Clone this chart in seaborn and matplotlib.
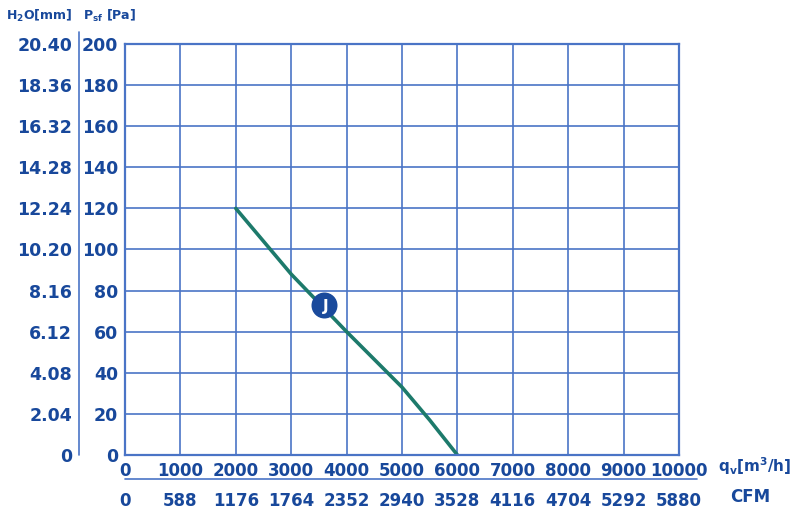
import matplotlib
matplotlib.use("Agg")
import matplotlib.pyplot as plt
from matplotlib.lines import Line2D
from matplotlib.ticker import MultipleLocator
import seaborn as sns

# fan curve
flow_m3h = [2000, 2500, 3000, 3500, 4000, 4500, 5000, 5500, 6000]
pressure_pa = [120, 104, 88, 74, 60, 46.5, 33, 17, 0]

# operating point marker "J"
j_flow = [3600]
j_pressure = [73]

x_ticks = [0, 1000, 2000, 3000, 4000, 5000, 6000, 7000, 8000, 9000, 10000]
cfm_labels = ['0', '588', '1176', '1764', '2352', '2940', '3528', '4116', '4704', '5292', '5880']
pa_ticks = [0, 20, 40, 60, 80, 100, 120, 140, 160, 180, 200]
h2o_labels = ['0', '2.04', '4.08', '6.12', '8.16', '10.20', '12.24', '14.28', '16.32', '18.36', '20.40']

sns.set_style('white')
plt.rcParams['font.family'] = ['DejaVu Sans']
plt.rcParams['font.weight'] = 'bold'

text_blue = '#18489b'
grid_blue = '#4a74c6'
curve_col = '#1d7a6b'

W, H = 800, 513
fig = plt.figure(figsize=(8, 5.13), dpi=100)
ax = fig.add_axes([125 / W, 1 - 455 / H, (679 - 125) / W, (455 - 44) / H])

sns.lineplot(x=flow_m3h, y=pressure_pa, ax=ax, color=curve_col, lw=2.6)
sns.scatterplot(x=j_flow, y=j_pressure, ax=ax, s=300, color='#1a4a9c',
                edgecolor='#1a4a9c', zorder=5)
ax.text(j_flow[0] + 20, j_pressure[0] - 0.5, 'J', color='white', fontsize=11,
        fontweight='bold', ha='center', va='center', zorder=6)

ax.set_xlim(0, 10000)
ax.set_ylim(0, 200)
ax.set_xticks(x_ticks)
ax.set_yticks(pa_ticks)
ax.xaxis.set_minor_locator(MultipleLocator(500))
ax.yaxis.set_minor_locator(MultipleLocator(10))
ax.grid(True, which='major', color=grid_blue, lw=1.2)
for s in ax.spines.values():
    s.set_color(grid_blue)
    s.set_linewidth(1.6)
ax.tick_params(which='major', length=0, colors=text_blue)
ax.tick_params(axis='x', which='major', labelsize=12, pad=5)
ax.tick_params(axis='y', which='major', labelsize=12.5, pad=5)
ax.tick_params(which='minor', direction='in', length=4, width=1, color=grid_blue)
ax.tick_params(axis='y', which='minor', length=3)
ax.set_xlabel('')
ax.set_ylabel('')

# H2O scale on the far left
sec_y = ax.secondary_yaxis((79 - 125) / (679 - 125))
sec_y.set_yticks(pa_ticks, labels=h2o_labels)
sec_y.tick_params(length=0, labelsize=12.5, pad=5, colors=text_blue)
sec_y.spines['left'].set_visible(False)

# CFM scale under the m3/h scale
sec_x = ax.secondary_xaxis(-(479 - 455) / (455 - 44))
sec_x.set_xticks(x_ticks, labels=cfm_labels)
sec_x.tick_params(length=0, labelsize=12, pad=9, colors=text_blue)
sec_x.spines['bottom'].set_visible(False)

fig.add_artist(Line2D([79 / W, 79 / W], [1 - 32 / H, 1 - 455 / H], color=grid_blue, lw=1.2))
fig.add_artist(Line2D([125 / W, 697 / W], [1 - 479 / H, 1 - 479 / H], color=grid_blue, lw=1.2))

fig.text(72 / W, 1 - 16 / H, r'H$_2$O[mm]', color=text_blue, fontsize=9, ha='right', va='center')
fig.text(83 / W, 1 - 16 / H, r'P$_{\mathbf{sf}}$ [Pa]', color=text_blue, fontsize=9, ha='left', va='center')
fig.text(718 / W, 1 - 466 / H, r'q$_\mathbf{v}$[m$^\mathbf{3}$/h]', color=text_blue, fontsize=11, ha='left', va='center')
fig.text(730 / W, 1 - 497 / H, 'CFM', color=text_blue, fontsize=12, ha='left', va='center')

fig.savefig('out.png', dpi=100)
